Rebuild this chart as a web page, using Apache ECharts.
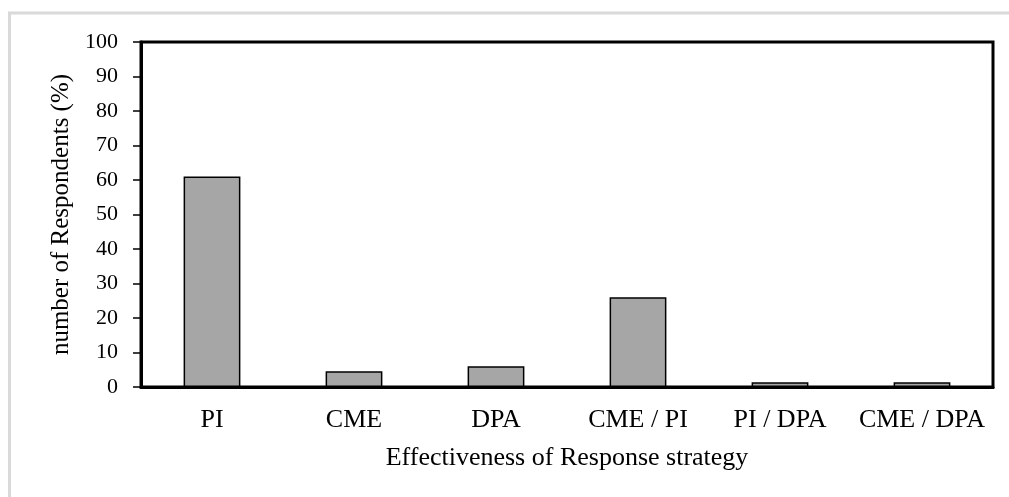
<!DOCTYPE html>
<html>
<head>
<meta charset="utf-8">
<script src="https://cdn.jsdelivr.net/npm/echarts@6/dist/echarts.min.js"></script>
<style>
  html, body { margin: 0; padding: 0; background: #fff; }
  #chart { width: 1009px; height: 497px; }
</style>
</head>
<body>
<div id="chart"></div>
<script>
// strategies on the x axis
var categories = ['PI', 'CME', 'DPA', 'CME / PI', 'PI / DPA', 'CME / DPA'];
// % of respondents
var respondents = [61, 4.6, 6, 26, 1.4, 1.4];

var chart = echarts.init(document.getElementById('chart'));
var serif = 'Liberation Serif';

chart.setOption({
  backgroundColor: '#fff',
  animation: false,
  graphic: [{
    type: 'rect',
    shape: { x: 9.5, y: 13, width: 1100, height: 600 },
    style: { fill: 'none', stroke: '#d9d9d9', lineWidth: 3 },
    silent: true
  }],
  grid: {
    left: 141,
    top: 42,
    right: 16,
    bottom: 110,
    show: true,
    borderColor: '#000',
    borderWidth: 3
  },
  xAxis: {
    type: 'category',
    data: categories,
    name: 'Effectiveness of Response strategy',
    nameLocation: 'middle',
    nameGap: 58,
    nameTextStyle: { fontFamily: serif, fontSize: 26, color: '#000' },
    axisLine: { lineStyle: { color: '#000', width: 3 } },
    axisTick: { show: false },
    axisLabel: {
      interval: 0,
      hideOverlap: false,
      fontFamily: serif,
      fontSize: 26,
      color: '#000',
      margin: 20
    }
  },
  yAxis: {
    type: 'value',
    min: 0,
    max: 100,
    interval: 10,
    name: 'number of Respondents (%)',
    nameLocation: 'middle',
    nameGap: 63,
    nameTextStyle: { fontFamily: serif, fontSize: 25, color: '#000' },
    axisLine: { show: true, lineStyle: { color: '#000', width: 3 } },
    axisTick: { show: true, length: 8, lineStyle: { color: '#000', width: 1.5 } },
    axisLabel: { fontFamily: serif, fontSize: 22, color: '#000', margin: 23 },
    splitLine: { show: false }
  },
  series: [{
    type: 'bar',
    data: respondents,
    barWidth: '40%',
    itemStyle: {
      color: '#a6a6a6',
      borderColor: '#000',
      borderWidth: 1.5
    }
  }]
});
</script>
</body>
</html>
